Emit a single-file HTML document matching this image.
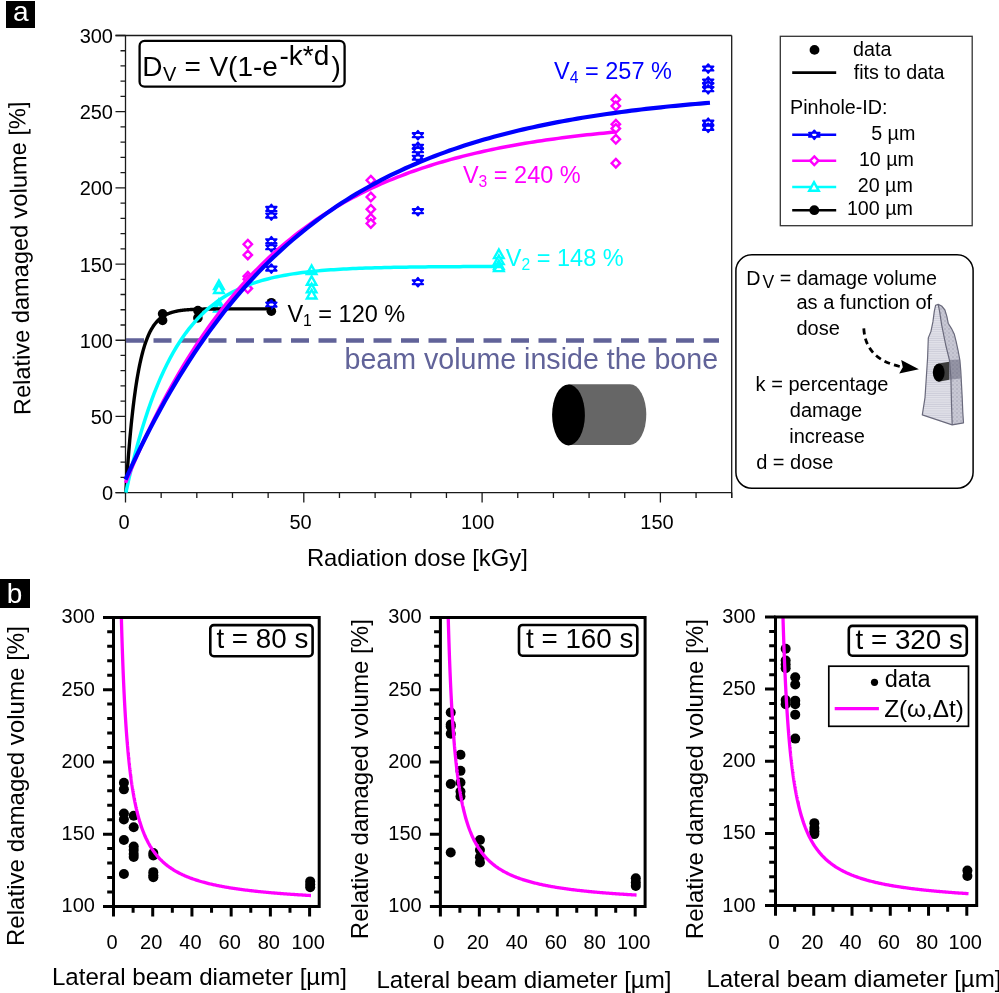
<!DOCTYPE html><html><head><meta charset="utf-8"><title>Figure</title><style>
html,body{margin:0;padding:0;background:#fff;}svg{display:block;will-change:transform;}
text{font-family:"Liberation Sans", sans-serif;}
</style></head><body>
<svg width="999" height="993" viewBox="0 0 999 993">
<rect width="999" height="993" fill="#fff"/>
<defs>
<path id="star" d="M0,-4.4 L5.3,2.1 L-5.3,2.1 Z M0,4.4 L-5.3,-2.1 L5.3,-2.1 Z" fill="#fff" stroke="#0000ff" stroke-width="1.9" stroke-linejoin="round"/>
<path id="dia" d="M0,-4.3 L4.2,0 L0,4.3 L-4.2,0 Z" fill="#fff" stroke="#ff00ff" stroke-width="2.4"/>
<path id="tri" d="M0,-4.6 L4.8,4 L-4.8,4 Z" fill="#fff" stroke="#00ffff" stroke-width="2.4"/>
<circle id="dot" r="4.8" fill="#000"/>
<circle id="bdot" r="5" fill="#000"/>
</defs>
<rect x="6" y="1" width="29" height="27" fill="#000"/>
<text x="12.9" y="20.9" font-size="28" fill="#fff">a</text>
<g stroke="#1a1a1a" stroke-width="1.3" fill="none">
<path d="M115.5,35.5 H731.7 M125.5,35.5 V492.6 M115.5,492.6 H731.7 M731.7,35.5 V498"/>
<path d="M115.5,492.6 H125.5 M120.5,477.36 H125.5 M120.5,462.13 H125.5 M120.5,446.89 H125.5 M120.5,431.65 H125.5 M115.5,416.42 H125.5 M120.5,401.18 H125.5 M120.5,385.94 H125.5 M120.5,370.7 H125.5 M120.5,355.47 H125.5 M115.5,340.23 H125.5 M120.5,324.99 H125.5 M120.5,309.76 H125.5 M120.5,294.52 H125.5 M120.5,279.28 H125.5 M115.5,264.05 H125.5 M120.5,248.81 H125.5 M120.5,233.57 H125.5 M120.5,218.33 H125.5 M120.5,203.1 H125.5 M115.5,187.86 H125.5 M120.5,172.62 H125.5 M120.5,157.39 H125.5 M120.5,142.15 H125.5 M120.5,126.91 H125.5 M115.5,111.68 H125.5 M120.5,96.44 H125.5 M120.5,81.2 H125.5 M120.5,65.96 H125.5 M120.5,50.73 H125.5 M115.5,35.49 H125.5 M125.5,492.6 V502.6 M161.16,492.6 V498 M196.82,492.6 V498 M232.48,492.6 V498 M268.14,492.6 V498 M303.8,492.6 V502.6 M339.46,492.6 V498 M375.12,492.6 V498 M410.78,492.6 V498 M446.44,492.6 V498 M482.1,492.6 V502.6 M517.76,492.6 V498 M553.42,492.6 V498 M589.08,492.6 V498 M624.74,492.6 V498 M660.4,492.6 V502.6 M696.06,492.6 V498 M731.72,492.6 V498"/>
</g>
<g font-size="20" fill="#000" text-anchor="end">
<text x="113" y="500.2">0</text>
<text x="113" y="424.02">50</text>
<text x="113" y="347.83">100</text>
<text x="113" y="271.65">150</text>
<text x="113" y="195.46">200</text>
<text x="113" y="119.28">250</text>
<text x="113" y="43.09">300</text>
</g>
<g font-size="20" fill="#000" text-anchor="middle">
<text x="124" y="529.3">0</text>
<text x="300.6" y="529.3">50</text>
<text x="477.7" y="529.3">100</text>
<text x="657" y="529.3">150</text>
</g>
<text x="306.9" y="565.5" font-size="23.8" fill="#000">Radiation dose [kGy]</text>
<text transform="translate(30.6,414.9) rotate(-91)" font-size="23.6" fill="#000">Relative damaged volume [%]</text>
<rect x="139.6" y="40.9" width="205" height="45.8" rx="5" ry="5" fill="none" stroke="#000" stroke-width="2.3"/>
<g font-size="28" fill="#000">
<text x="142.2" y="75.9">D</text>
<text x="162.9" y="81.3" font-size="20">V</text>
<text x="184.5" y="75.9">=</text>
<text x="209.4" y="75.9">V(1-e</text>
<text x="279.5" y="65.1">-k*d</text>
<text x="331.5" y="75.9">)</text>
</g>
<path d="M126,340.4 H719" stroke="#616399" stroke-width="4.5" stroke-dasharray="18 9.5" fill="none"/>
<use href="#tri" x="218.93" y="285.07"/>
<use href="#tri" x="218.93" y="289.03"/>
<use href="#tri" x="218.93" y="304.12"/>
<use href="#tri" x="218.93" y="307.62"/>
<use href="#tri" x="311.65" y="270.14"/>
<use href="#tri" x="311.65" y="280.81"/>
<use href="#tri" x="311.65" y="288.42"/>
<use href="#tri" x="311.65" y="294.52"/>
<use href="#tri" x="498.86" y="254.14"/>
<use href="#tri" x="498.86" y="260.08"/>
<use href="#tri" x="498.86" y="265.11"/>
<use href="#tri" x="498.86" y="267.09"/>
<use href="#dot" x="162.59" y="313.87"/>
<use href="#dot" x="162.59" y="320.42"/>
<use href="#dot" x="197.89" y="310.52"/>
<use href="#dot" x="197.89" y="317.98"/>
<use href="#dot" x="271.35" y="302.75"/>
<use href="#dot" x="271.35" y="311.13"/>
<use href="#dia" x="247.81" y="244.24"/>
<use href="#dia" x="247.81" y="254.9"/>
<use href="#dia" x="247.81" y="276.23"/>
<use href="#dia" x="247.81" y="279.28"/>
<use href="#dia" x="247.81" y="288.42"/>
<use href="#dia" x="370.84" y="180.24"/>
<use href="#dia" x="370.84" y="197"/>
<use href="#dia" x="370.84" y="209.19"/>
<use href="#dia" x="370.84" y="218.33"/>
<use href="#dia" x="370.84" y="223.51"/>
<use href="#dia" x="615.83" y="99.49"/>
<use href="#dia" x="615.83" y="106.04"/>
<use href="#dia" x="615.83" y="124.17"/>
<use href="#dia" x="615.83" y="128.44"/>
<use href="#dia" x="615.83" y="139.25"/>
<use href="#dia" x="615.83" y="163.18"/>
<use href="#star" x="271.35" y="208.89"/>
<use href="#star" x="271.35" y="215.59"/>
<use href="#star" x="271.35" y="241.19"/>
<use href="#star" x="271.35" y="247.28"/>
<use href="#star" x="271.35" y="268.62"/>
<use href="#star" x="271.35" y="304.58"/>
<use href="#star" x="417.91" y="135.14"/>
<use href="#star" x="417.91" y="146.72"/>
<use href="#star" x="417.91" y="150.22"/>
<use href="#star" x="417.91" y="157.69"/>
<use href="#star" x="417.91" y="211.17"/>
<use href="#star" x="417.91" y="282.18"/>
<use href="#star" x="708.18" y="68.55"/>
<use href="#star" x="708.18" y="81.51"/>
<use href="#star" x="708.18" y="85.01"/>
<use href="#star" x="708.18" y="89.28"/>
<use href="#star" x="708.18" y="122.65"/>
<use href="#star" x="708.18" y="127.83"/>
<path d="M125.84,492.66 L126.33,485.13 L126.81,477.92 L127.3,470.99 L127.79,464.36 L128.27,457.99 L128.76,451.88 L129.25,446.03 L129.73,440.41 L130.22,435.02 L130.71,429.86 L131.19,424.9 L131.68,420.15 L132.17,415.6 L132.65,411.22 L133.14,407.03 L133.63,403.01 L134.11,399.16 L134.6,395.46 L135.09,391.91 L135.57,388.51 L136.06,385.25 L136.55,382.12 L137.03,379.12 L137.52,376.25 L138.01,373.49 L138.49,370.84 L138.98,368.3 L139.47,365.87 L139.95,363.53 L140.44,361.29 L140.93,359.15 L141.41,357.09 L141.9,355.11 L142.39,353.22 L142.87,351.4 L143.36,349.66 L143.85,347.99 L144.33,346.38 L144.82,344.85 L145.31,343.37 L145.79,341.96 L146.28,340.6 L146.77,339.3 L147.25,338.06 L147.74,336.86 L148.23,335.71 L148.71,334.61 L149.2,333.56 L149.68,332.55 L150.17,331.58 L150.66,330.65 L151.14,329.75 L151.63,328.9 L152.12,328.08 L152.6,327.29 L153.09,326.53 L153.58,325.81 L154.06,325.11 L154.55,324.45 L155.04,323.81 L155.52,323.2 L156.01,322.61 L156.5,322.04 L156.98,321.5 L157.47,320.99 L157.96,320.49 L158.44,320.01 L158.93,319.55 L159.42,319.12 L159.9,318.7 L160.39,318.29 L160.88,317.91 L161.36,317.53 L161.85,317.18 L162.34,316.84 L162.82,316.51 L163.31,316.2 L163.8,315.89 L164.28,315.61 L164.77,315.33 L165.26,315.06 L165.74,314.81 L166.23,314.56 L166.72,314.33 L167.2,314.11 L167.69,313.89 L168.18,313.68 L168.66,313.49 L169.15,313.29 L169.64,313.11 L170.12,312.94 L170.61,312.77 L171.1,312.61 L171.58,312.46 L172.07,312.31 L172.56,312.17 L173.04,312.03 L173.53,311.9 L174.02,311.77 L174.5,311.65 L174.99,311.54 L175.48,311.43 L175.96,311.32 L176.45,311.22 L176.94,311.12 L177.42,311.03 L177.91,310.94 L178.4,310.85 L178.88,310.77 L179.37,310.69 L179.86,310.62 L180.34,310.54 L180.83,310.47 L181.32,310.41 L181.8,310.34 L182.29,310.28 L182.78,310.22 L183.26,310.17 L183.75,310.11 L184.24,310.06 L184.72,310.01 L185.21,309.96 L185.7,309.92 L186.18,309.87 L186.67,309.83 L187.16,309.79 L187.64,309.75 L188.13,309.71 L188.62,309.68 L189.1,309.64 L189.59,309.61 L190.08,309.58 L190.56,309.55 L191.05,309.52 L191.54,309.49 L192.02,309.47 L192.51,309.44 L193,309.42 L193.48,309.39 L193.97,309.37 L194.46,309.35 L194.94,309.33 L195.43,309.31 L195.92,309.29 L196.4,309.27 L196.89,309.25 L197.38,309.24 L197.86,309.22 L198.35,309.2 L198.84,309.19 L199.32,309.18 L199.81,309.16 L200.3,309.15 L200.78,309.14 L201.27,309.12 L201.76,309.11 L202.24,309.1 L202.73,309.09 L203.22,309.08 L203.7,309.07 L204.19,309.06 L204.68,309.05 L205.16,309.04 L205.65,309.04 L206.14,309.03 L206.62,309.02 L207.11,309.01 L207.6,309.01 L208.08,309 L208.57,308.99 L209.06,308.99 L209.54,308.98 L210.03,308.97 L210.52,308.97 L211,308.96 L211.49,308.96 L211.98,308.95 L212.46,308.95 L212.95,308.95 L213.44,308.94 L213.92,308.94 L214.41,308.93 L214.9,308.93 L215.38,308.93 L215.87,308.92 L216.36,308.92 L216.84,308.92 L217.33,308.91 L217.82,308.91 L218.3,308.91 L218.79,308.9 L219.28,308.9 L219.76,308.9 L220.25,308.9 L220.74,308.89 L221.22,308.89 L221.71,308.89 L222.2,308.89 L222.68,308.89 L223.17,308.88 L223.66,308.88 L224.14,308.88 L224.63,308.88 L225.12,308.88 L225.6,308.88 L226.09,308.88 L226.58,308.87 L227.06,308.87 L227.55,308.87 L228.04,308.87 L228.52,308.87 L229.01,308.87 L229.5,308.87 L229.98,308.87 L230.47,308.86 L230.96,308.86 L231.44,308.86 L231.93,308.86 L232.42,308.86 L232.9,308.86 L233.39,308.86 L233.88,308.86 L234.36,308.86 L234.85,308.86 L235.34,308.86 L235.82,308.86 L236.31,308.86 L236.8,308.86 L237.28,308.85 L237.77,308.85 L238.26,308.85 L238.74,308.85 L239.23,308.85 L239.72,308.85 L240.2,308.85 L240.69,308.85 L241.18,308.85 L241.66,308.85 L242.15,308.85 L242.64,308.85 L243.12,308.85 L243.61,308.85 L244.1,308.85 L244.58,308.85 L245.07,308.85 L245.56,308.85 L246.04,308.85 L246.53,308.85 L247.02,308.85 L247.5,308.85 L247.99,308.85 L248.48,308.85 L248.96,308.85 L249.45,308.85 L249.94,308.85 L250.42,308.85 L250.91,308.85 L251.4,308.85 L251.88,308.85 L252.37,308.85 L252.86,308.85 L253.34,308.85 L253.83,308.84 L254.32,308.84 L254.8,308.84 L255.29,308.84 L255.78,308.84 L256.26,308.84 L256.75,308.84 L257.24,308.84 L257.72,308.84 L258.21,308.84 L258.7,308.84 L259.18,308.84 L259.67,308.84 L260.16,308.84 L260.64,308.84 L261.13,308.84 L261.62,308.84 L262.1,308.84 L262.59,308.84 L263.08,308.84 L263.56,308.84 L264.05,308.84 L264.54,308.84 L265.02,308.84 L265.51,308.84 L266,308.84 L266.48,308.84 L266.97,308.84 L267.46,308.84 L267.94,308.84 L268.43,308.84 L268.92,308.84 L269.4,308.84 L269.89,308.84 L270.38,308.84 L270.86,308.84 L271.35,308.84" stroke="#000" stroke-width="3.4" fill="none"/>
<path d="M125.86,492.52 L129.01,478.45 L132.16,465.25 L135.31,452.87 L138.47,441.26 L141.62,430.38 L144.77,420.17 L147.92,410.6 L151.08,401.63 L154.23,393.21 L157.38,385.32 L160.53,377.92 L163.69,370.97 L166.84,364.46 L169.99,358.36 L173.14,352.64 L176.3,347.27 L179.45,342.24 L182.6,337.51 L185.75,333.09 L188.91,328.94 L192.06,325.04 L195.21,321.39 L198.36,317.97 L201.52,314.76 L204.67,311.75 L207.82,308.93 L210.97,306.28 L214.13,303.8 L217.28,301.47 L220.43,299.29 L223.58,297.24 L226.74,295.32 L229.89,293.52 L233.04,291.83 L236.19,290.25 L239.35,288.76 L242.5,287.37 L245.65,286.06 L248.8,284.84 L251.96,283.69 L255.11,282.61 L258.26,281.6 L261.41,280.66 L264.57,279.77 L267.72,278.94 L270.87,278.16 L274.02,277.42 L277.17,276.74 L280.33,276.09 L283.48,275.49 L286.63,274.92 L289.78,274.39 L292.94,273.89 L296.09,273.43 L299.24,272.99 L302.39,272.58 L305.55,272.19 L308.7,271.83 L311.85,271.49 L315,271.18 L318.16,270.88 L321.31,270.6 L324.46,270.34 L327.61,270.09 L330.77,269.86 L333.92,269.65 L337.07,269.44 L340.22,269.25 L343.38,269.08 L346.53,268.91 L349.68,268.75 L352.83,268.6 L355.99,268.47 L359.14,268.34 L362.29,268.22 L365.44,268.1 L368.6,268 L371.75,267.9 L374.9,267.8 L378.05,267.71 L381.21,267.63 L384.36,267.56 L387.51,267.48 L390.66,267.41 L393.82,267.35 L396.97,267.29 L400.12,267.24 L403.27,267.18 L406.43,267.13 L409.58,267.09 L412.73,267.04 L415.88,267 L419.04,266.97 L422.19,266.93 L425.34,266.9 L428.49,266.86 L431.65,266.84 L434.8,266.81 L437.95,266.78 L441.1,266.76 L444.26,266.73 L447.41,266.71 L450.56,266.69 L453.71,266.67 L456.87,266.66 L460.02,266.64 L463.17,266.62 L466.32,266.61 L469.48,266.6 L472.63,266.58 L475.78,266.57 L478.93,266.56 L482.09,266.55 L485.24,266.54 L488.39,266.53 L491.54,266.52 L494.69,266.51 L497.85,266.51 L501,266.5" stroke="#00ffff" stroke-width="3.5" fill="none"/>
<path d="M125.5,482.95 L129.62,473.01 L133.74,463.34 L137.86,453.93 L141.98,444.78 L146.1,435.87 L150.22,427.21 L154.34,418.79 L158.46,410.6 L162.58,402.63 L166.7,394.87 L170.82,387.33 L174.94,380 L179.06,372.86 L183.19,365.92 L187.31,359.17 L191.43,352.6 L195.55,346.21 L199.67,340 L203.79,333.95 L207.91,328.07 L212.03,322.35 L216.15,316.79 L220.27,311.38 L224.39,306.11 L228.51,300.99 L232.63,296.01 L236.75,291.17 L240.87,286.46 L244.99,281.87 L249.11,277.41 L253.23,273.07 L257.35,268.86 L261.47,264.75 L265.59,260.76 L269.71,256.88 L273.83,253.1 L277.95,249.42 L282.07,245.85 L286.19,242.37 L290.32,238.99 L294.44,235.7 L298.56,232.5 L302.68,229.39 L306.8,226.36 L310.92,223.42 L315.04,220.55 L319.16,217.77 L323.28,215.06 L327.4,212.42 L331.52,209.85 L335.64,207.36 L339.76,204.93 L343.88,202.57 L348,200.28 L352.12,198.04 L356.24,195.87 L360.36,193.76 L364.48,191.7 L368.6,189.7 L372.72,187.76 L376.84,185.86 L380.96,184.02 L385.08,182.23 L389.2,180.49 L393.32,178.8 L397.44,177.15 L401.57,175.55 L405.69,173.99 L409.81,172.47 L413.93,171 L418.05,169.56 L422.17,168.17 L426.29,166.81 L430.41,165.49 L434.53,164.2 L438.65,162.95 L442.77,161.74 L446.89,160.56 L451.01,159.41 L455.13,158.29 L459.25,157.2 L463.37,156.14 L467.49,155.11 L471.61,154.11 L475.73,153.14 L479.85,152.19 L483.97,151.27 L488.09,150.37 L492.21,149.5 L496.33,148.65 L500.45,147.82 L504.57,147.02 L508.7,146.24 L512.82,145.48 L516.94,144.74 L521.06,144.02 L525.18,143.32 L529.3,142.64 L533.42,141.98 L537.54,141.34 L541.66,140.71 L545.78,140.1 L549.9,139.51 L554.02,138.94 L558.14,138.38 L562.26,137.83 L566.38,137.3 L570.5,136.79 L574.62,136.28 L578.74,135.8 L582.86,135.32 L586.98,134.86 L591.1,134.41 L595.22,133.97 L599.34,133.55 L603.46,133.14 L607.58,132.73 L611.7,132.34 L615.83,131.96" stroke="#ff00ff" stroke-width="3.5" fill="none"/>
<path d="M125.5,479.51 L130.41,468.75 L135.32,458.29 L140.23,448.12 L145.15,438.22 L150.06,428.6 L154.97,419.25 L159.88,410.15 L164.79,401.3 L169.7,392.69 L174.61,384.32 L179.53,376.19 L184.44,368.27 L189.35,360.58 L194.26,353.09 L199.17,345.81 L204.08,338.73 L209,331.85 L213.91,325.16 L218.82,318.65 L223.73,312.32 L228.64,306.16 L233.55,300.17 L238.46,294.35 L243.38,288.69 L248.29,283.18 L253.2,277.83 L258.11,272.62 L263.02,267.56 L267.93,262.63 L272.84,257.85 L277.76,253.19 L282.67,248.66 L287.58,244.26 L292.49,239.97 L297.4,235.81 L302.31,231.76 L307.23,227.82 L312.14,223.99 L317.05,220.26 L321.96,216.64 L326.87,213.12 L331.78,209.69 L336.69,206.36 L341.61,203.12 L346.52,199.97 L351.43,196.9 L356.34,193.92 L361.25,191.03 L366.16,188.21 L371.07,185.47 L375.99,182.8 L380.9,180.21 L385.81,177.69 L390.72,175.24 L395.63,172.86 L400.54,170.54 L405.45,168.28 L410.37,166.09 L415.28,163.96 L420.19,161.89 L425.1,159.87 L430.01,157.91 L434.92,156 L439.84,154.15 L444.75,152.35 L449.66,150.59 L454.57,148.89 L459.48,147.23 L464.39,145.62 L469.3,144.05 L474.22,142.52 L479.13,141.04 L484.04,139.6 L488.95,138.2 L493.86,136.83 L498.77,135.51 L503.68,134.22 L508.6,132.96 L513.51,131.74 L518.42,130.55 L523.33,129.4 L528.24,128.28 L533.15,127.19 L538.07,126.13 L542.98,125.09 L547.89,124.09 L552.8,123.12 L557.71,122.17 L562.62,121.24 L567.53,120.35 L572.45,119.47 L577.36,118.63 L582.27,117.8 L587.18,117 L592.09,116.22 L597,115.46 L601.91,114.72 L606.83,114 L611.74,113.3 L616.65,112.62 L621.56,111.96 L626.47,111.32 L631.38,110.7 L636.3,110.09 L641.21,109.5 L646.12,108.93 L651.03,108.37 L655.94,107.82 L660.85,107.3 L665.76,106.78 L670.68,106.28 L675.59,105.8 L680.5,105.33 L685.41,104.87 L690.32,104.42 L695.23,103.98 L700.14,103.56 L705.06,103.15 L709.97,102.75" stroke="#0000ff" stroke-width="4.2" fill="none"/>
<text x="554.1" y="79.2" font-size="23.5" fill="#0000ff">V<tspan font-size="15.7" dy="4">4</tspan><tspan dy="-4"> = 257 %</tspan></text>
<text x="462.9" y="183.2" font-size="23.5" fill="#ff00ff">V<tspan font-size="15.7" dy="4">3</tspan><tspan dy="-4"> = 240 %</tspan></text>
<text x="505.8" y="265.9" font-size="23.5" fill="#00ffff">V<tspan font-size="15.7" dy="4">2</tspan><tspan dy="-4"> = 148 %</tspan></text>
<text x="287.4" y="322.3" font-size="23.5" fill="#000">V<tspan font-size="15.7" dy="4">1</tspan><tspan dy="-4"> = 120 %</tspan></text>
<text x="344.5" y="369" font-size="28.6" fill="#616399">beam volume inside the bone</text>
<path d="M568.5,384.3 H630 A16.3,30.3 0 0 1 630,444.9 H568.5 Z" fill="#666"/>
<ellipse cx="568.5" cy="414.9" rx="16.4" ry="30.5" fill="#000"/>
<rect x="780.3" y="36.3" width="191.9" height="189.4" fill="#fff" stroke="#333" stroke-width="1.3"/>
<g font-size="19.7" fill="#000">
<circle cx="814.5" cy="49.9" r="4.9" fill="#000"/>
<text x="853.1" y="55.7">data</text>
<path d="M792.2,72.6 H836.2" stroke="#000" stroke-width="2.6"/>
<text x="853.7" y="78.6">fits to data</text>
<text x="790.1" y="114.3">Pinhole-ID:</text>
<path d="M792.2,134.8 H836.2" stroke="#0000ff" stroke-width="2.6"/>
<use href="#star" x="814.3" y="134.8"/>
<text x="871.2" y="139.6">5 µm</text>
<path d="M792.2,160.7 H836.2" stroke="#ff00ff" stroke-width="2.6"/>
<use href="#dia" x="814.3" y="160.7"/>
<text x="858.9" y="166">10 µm</text>
<path d="M792.2,187 H836.2" stroke="#00ffff" stroke-width="2.6"/>
<use href="#tri" x="814" y="186.8"/>
<text x="857.7" y="192.2">20 µm</text>
<path d="M792.2,210.2 H836.2" stroke="#000" stroke-width="2.6"/>
<circle cx="814.3" cy="210.2" r="4.9" fill="#000"/>
<text x="846.9" y="215">100 µm</text>
</g>
<rect x="735.9" y="254.8" width="237.2" height="233.5" rx="16" ry="16" fill="#fff" stroke="#000" stroke-width="1.5"/>
<g font-size="20" fill="#000">
<text x="746.2" y="284.8" font-size="19.7">D</text>
<text x="762.6" y="288.4" font-size="17.5">V</text>
<text x="779.8" y="284.8" font-size="19.7">= damage volume</text>
<text x="796.5" y="309.2">as a function of</text>
<text x="796.5" y="334.8">dose</text>
<text x="755.6" y="390.5">k = percentage</text>
<text x="789.8" y="417">damage</text>
<text x="789.2" y="443.3">increase</text>
<text x="756.2" y="469.4">d = dose</text>
</g>
<defs><pattern id="pf" width="3" height="2.2" patternUnits="userSpaceOnUse"><rect width="3" height="2.2" fill="#e2e2ea"/><rect y="1.3" width="3" height="0.8" fill="#c9c9d6"/></pattern><pattern id="ps" width="4" height="4" patternUnits="userSpaceOnUse"><rect width="4" height="4" fill="#c8c8d4"/><circle cx="1" cy="1" r="0.7" fill="#9c9cae"/><circle cx="3" cy="3" r="0.6" fill="#a8a8b8"/></pattern></defs>
<path d="M935.6,305.3 L938.2,304.4 L941.6,306 L944.9,310 L946.9,316.6 L948.2,323.2 L951.5,328.6 L954.2,333.9 L956.2,341.8 L958.2,351.1 L959.9,360.4 L960.8,371.1 L961.5,384.4 L962.2,397.6 L962.8,412.3 L963.5,422.9 L952.2,424.9 L922.3,414.9 L925,397.6 L926.3,377.7 L927.6,357.8 L928.3,337.9 L931,331.2 L932.9,321.9 L934.3,311.3 Z" fill="url(#pf)"/>
<path d="M938.2,304.4 L941.6,306 L944.9,310 L946.9,316.6 L948.2,323.2 L951.5,328.6 L954.2,333.9 L956.2,341.8 L958.2,351.1 L959.9,360.4 L960.8,371.1 L961.5,384.4 L962.2,397.6 L962.8,412.3 L963.5,422.9 L952.2,424.9 L951.5,404.3 L950.9,377.7 L949.5,360.4 L945.6,344.5 L941.6,324.6 L939.6,311.3 Z" fill="url(#ps)"/>
<path d="M949,360 L959.6,359.4 L960.6,378.6 L949,379.8 Z" fill="#55556a" fill-opacity="0.45"/>
<path d="M938.7,363.4 L949.2,361.8 L949.2,379.8 L938.7,381.8 Z" fill="#3c3c3c"/>
<ellipse cx="938.7" cy="372.6" rx="5.9" ry="9.1" fill="#000"/>
<path d="M935.6,305.3 L938.2,304.4 L941.6,306 L944.9,310 L946.9,316.6 L948.2,323.2 L951.5,328.6 L954.2,333.9 L956.2,341.8 L958.2,351.1 L959.9,360.4 L960.8,371.1 L961.5,384.4 L962.2,397.6 L962.8,412.3 L963.5,422.9 L952.2,424.9 L922.3,414.9 L925,397.6 L926.3,377.7 L927.6,357.8 L928.3,337.9 L931,331.2 L932.9,321.9 L934.3,311.3 Z M938.2,304.4 L939.6,311.3 L941.6,324.6 L945.6,344.5 L949.5,360.4 L950.9,377.7 L951.5,404.3 L952.2,424.9" fill="none" stroke="#6a6a7c" stroke-width="1.2" stroke-linejoin="round"/>
<path d="M863.8,328.4 C865,350 878,362 902,367" stroke="#000" stroke-width="2.8" stroke-dasharray="6 4.2" fill="none"/>
<path d="M918.9,369.2 L901.2,360 L902.8,367.2 L899.2,373.5 Z" fill="#000"/>
<rect x="0" y="579" width="30" height="29" fill="#000"/>
<text x="6.8" y="602.8" font-size="28" fill="#fff">b</text>
<use href="#bdot" x="123.91" y="782.71"/>
<use href="#bdot" x="123.91" y="789.36"/>
<use href="#bdot" x="123.91" y="813.49"/>
<use href="#bdot" x="123.91" y="819.56"/>
<use href="#bdot" x="123.91" y="840.07"/>
<use href="#bdot" x="123.91" y="874.03"/>
<use href="#bdot" x="133.71" y="815.8"/>
<use href="#bdot" x="133.71" y="827.21"/>
<use href="#bdot" x="133.71" y="846.43"/>
<use href="#bdot" x="133.71" y="850.04"/>
<use href="#bdot" x="133.71" y="854.09"/>
<use href="#bdot" x="133.71" y="856.98"/>
<use href="#bdot" x="153.32" y="852.93"/>
<use href="#bdot" x="153.32" y="855.39"/>
<use href="#bdot" x="153.32" y="872.15"/>
<use href="#bdot" x="153.32" y="875.19"/>
<use href="#bdot" x="153.32" y="877.21"/>
<use href="#bdot" x="310.2" y="881.4"/>
<use href="#bdot" x="310.2" y="884.44"/>
<use href="#bdot" x="310.2" y="887.33"/>
<path d="M121.35,617.14 L121.39,618.53 L121.43,619.91 L121.46,621.27 L121.5,622.62 L121.54,623.96 L121.58,625.29 L121.61,626.6 L121.65,627.9 L121.69,629.19 L121.73,630.47 L121.76,631.73 L121.8,632.99 L121.84,634.23 L121.87,635.46 L121.91,636.68 L121.95,637.89 L121.99,639.09 L122.02,640.28 L122.06,641.46 L122.1,642.63 L122.14,643.78 L122.17,644.93 L122.21,646.07 L122.25,647.2 L122.29,648.32 L122.32,649.43 L122.36,650.53 L122.4,651.62 L122.43,652.7 L122.47,653.77 L122.51,654.83 L122.55,655.89 L122.58,656.93 L122.62,657.97 L122.66,659 L122.7,660.02 L122.73,661.03 L122.77,662.03 L122.81,663.03 L122.85,664.02 L122.88,665 L122.92,665.97 L122.96,666.93 L122.99,667.89 L123.03,668.84 L123.07,669.78 L123.11,670.71 L123.14,671.64 L123.18,672.56 L123.22,673.47 L123.26,674.38 L123.29,675.28 L123.33,676.17 L123.37,677.05 L123.41,677.93 L123.44,678.8 L123.48,679.67 L123.52,680.53 L123.55,681.38 L123.59,682.22 L123.63,683.06 L123.67,683.9 L123.7,684.72 L123.74,685.55 L123.78,686.36 L123.82,687.17 L123.85,687.97 L123.89,688.77 L123.93,689.56 L123.97,690.35 L124,691.13 L124.04,691.9 L124.08,692.67 L124.11,693.44 L124.15,694.2 L124.19,694.95 L124.23,695.7 L124.26,696.44 L124.3,697.18 L124.34,697.91 L124.38,698.64 L124.41,699.36 L124.45,700.08 L124.49,700.79 L124.53,701.5 L124.56,702.2 L124.6,702.9 L124.64,703.59 L124.67,704.28 L124.71,704.96 L124.75,705.64 L124.79,706.32 L124.82,706.99 L124.86,707.65 L124.9,708.32 L124.94,708.97 L124.97,709.63 L125.01,710.28 L125.05,710.92 L125.09,711.56 L125.12,712.2 L125.16,712.83 L125.2,713.46 L125.23,714.08 L125.27,714.7 L125.31,715.32 L125.35,715.93 L125.38,716.54 L125.42,717.14 L125.46,717.74 L125.5,718.34 L125.53,718.93 L125.57,719.52 L125.61,720.11 L125.65,720.69 L125.68,721.27 L125.72,721.84 L125.76,722.41 L125.79,722.98 L125.83,723.55 L125.87,724.11 L125.91,724.67 L125.94,725.22 L125.98,725.77 L126.02,726.32 L126.06,726.86 L126.09,727.4 L126.13,727.94 L126.17,728.48 L126.21,729.01 L126.24,729.54 L126.28,730.06 L126.32,730.58 L126.35,731.1 L126.39,731.62 L126.43,732.13 L126.47,732.64 L126.5,733.15 L126.54,733.65 L126.58,734.16 L126.62,734.65 L126.65,735.15 L126.69,735.64 L126.73,736.13 L126.77,736.62 L126.8,737.11 L126.84,737.59 L126.88,738.07 L126.91,738.54 L126.95,739.02 L126.99,739.49 L127.03,739.96 L127.06,740.42 L127.1,740.88 L127.14,741.35 L127.18,741.8 L127.21,742.26 L127.25,742.71 L127.29,743.16 L127.33,743.61 L127.36,744.06 L127.4,744.5 L127.44,744.94 L127.47,745.38 L127.51,745.82 L127.55,746.25 L127.59,746.68 L127.62,747.11 L127.66,747.54 L127.7,747.96 L127.74,748.39 L127.77,748.81 L127.81,749.23 L127.85,749.64 L127.89,750.06 L127.92,750.47 L127.96,750.88 L128,751.28 L128.03,751.69 L128.07,752.09 L128.11,752.49 L128.15,752.89 L128.18,753.29 L128.22,753.68 L128.26,754.08 L128.3,754.47 L128.33,754.86 L128.37,755.24 L128.41,755.63 L128.45,756.01 L128.48,756.39 L128.52,756.77 L128.56,757.15 L128.59,757.53 L128.63,757.9 L128.67,758.27 L128.71,758.64 L128.74,759.01 L128.78,759.37 L128.82,759.74 L128.86,760.1 L128.89,760.46 L128.93,760.82 L128.97,761.18 L129.01,761.54 L129.04,761.89 L129.08,762.24 L129.12,762.59 L129.15,762.94 L129.19,763.29 L129.23,763.63 L129.27,763.98 L129.3,764.32 L129.34,764.66 L129.38,765 L129.42,765.34 L129.45,765.67 L129.49,766.01 L129.53,766.34 L129.57,766.67 L129.6,767 L129.64,767.33 L129.68,767.65 L129.71,767.98 L129.75,768.3 L129.79,768.63 L129.83,768.95 L129.86,769.26 L129.9,769.58 L129.94,769.9 L129.98,770.21 L130.01,770.53 L130.05,770.84 L130.09,771.15 L130.13,771.46 L130.16,771.77 L130.2,772.07 L130.24,772.38 L130.27,772.68 L130.31,772.98 L130.35,773.28 L130.39,773.58 L130.42,773.88 L130.46,774.18 L130.5,774.47 L130.54,774.77 L130.57,775.06 L130.61,775.35 L130.65,775.64 L130.69,775.93 L130.72,776.22 L130.76,776.5 L130.8,776.79 L130.83,777.07 L130.87,777.36 L130.91,777.64 L130.95,777.92 L130.98,778.2 L131.02,778.48 L131.06,778.75 L131.1,779.03 L131.13,779.3 L131.17,779.58 L131.21,779.85 L131.25,780.12 L131.28,780.39 L131.32,780.66 L131.36,780.92 L131.39,781.19 L131.43,781.46 L131.47,781.72 L131.51,781.98 L131.54,782.25 L131.58,782.51 L131.62,782.77 L131.66,783.02 L131.69,783.28 L131.73,783.54 L131.77,783.79 L131.81,784.05 L131.84,784.3 L131.88,784.55 L131.92,784.81 L131.95,785.06 L131.99,785.31 L132.03,785.55 L132.07,785.8 L132.1,786.05 L132.14,786.29 L132.18,786.54 L132.22,786.78 L132.25,787.02 L132.29,787.26 L132.33,787.5 L132.37,787.74 L132.4,787.98 L132.44,788.22 L132.48,788.46 L132.51,788.69 L132.55,788.93 L132.59,789.16 L132.63,789.39 L132.66,789.63 L132.7,789.86 L132.74,790.09 L132.78,790.32 L132.81,790.54 L132.85,790.77 L132.89,791 L132.93,791.22 L132.96,791.45 L133,791.67 L133.04,791.9 L133.07,792.12 L133.11,792.34 L133.15,792.56 L133.19,792.78 L133.22,793 L133.26,793.22 L133.3,793.43 L133.34,793.65 L133.37,793.87 L133.41,794.08 L133.45,794.29 L133.49,794.51 L133.52,794.72 L133.56,794.93 L133.6,795.14 L133.63,795.35 L133.67,795.56 L133.71,795.77 L133.75,795.98 L133.78,796.18 L133.82,796.39 L133.86,796.6 L133.9,796.8 L133.93,797 L133.97,797.21 L134.01,797.41 L134.05,797.61 L134.08,797.81 L134.12,798.01 L134.16,798.21 L134.19,798.41 L134.23,798.61 L134.27,798.81 L134.31,799 L134.34,799.2 L134.38,799.39 L134.42,799.59 L134.46,799.78 L134.49,799.97 L134.53,800.17 L134.57,800.36 L134.61,800.55 L134.64,800.74 L134.68,800.93 L134.72,801.12 L134.75,801.31 L134.79,801.49 L134.83,801.68 L134.87,801.87 L134.9,802.05 L134.94,802.24 L134.98,802.42 L135.02,802.6 L135.05,802.79 L135.09,802.97 L135.13,803.15 L135.17,803.33 L135.2,803.51 L135.24,803.69 L135.28,803.87 L135.31,804.05 L135.35,804.23 L135.39,804.41 L135.43,804.58 L135.46,804.76 L135.5,804.93 L135.54,805.11 L135.58,805.28 L135.61,805.46 L135.65,805.63 L135.69,805.8 L135.73,805.98 L135.76,806.15 L135.8,806.32 L135.84,806.49 L135.87,806.66 L135.91,806.83 L135.95,807 L135.99,807.16 L136.02,807.33 L136.06,807.5 L136.1,807.66 L136.14,807.83 L136.17,807.99 L136.21,808.16 L136.25,808.32 L136.29,808.49 L136.32,808.65 L136.36,808.81 L136.4,808.97 L136.43,809.14 L136.47,809.3 L136.51,809.46 L136.55,809.62 L136.58,809.78 L136.62,809.94 L136.66,810.09 L136.7,810.25 L136.73,810.41 L136.77,810.57 L136.81,810.72 L136.85,810.88 L136.88,811.03 L136.92,811.19 L136.96,811.34 L136.99,811.5 L137.03,811.65 L137.03,811.65 L137.91,815.1 L138.78,818.31 L139.65,821.31 L140.53,824.11 L141.4,826.73 L142.28,829.2 L143.15,831.51 L144.02,833.7 L144.9,835.76 L145.77,837.71 L146.65,839.55 L147.52,841.3 L148.39,842.96 L149.27,844.54 L150.14,846.04 L151.02,847.47 L151.89,848.84 L152.77,850.14 L153.64,851.39 L154.51,852.58 L155.39,853.73 L156.26,854.82 L157.14,855.87 L158.01,856.88 L158.88,857.85 L159.76,858.79 L160.63,859.69 L161.51,860.55 L162.38,861.39 L163.25,862.19 L164.13,862.97 L165,863.72 L165.88,864.45 L166.75,865.15 L167.62,865.83 L168.5,866.48 L169.37,867.12 L170.25,867.73 L171.12,868.33 L171.99,868.91 L172.87,869.47 L173.74,870.02 L174.62,870.55 L175.49,871.06 L176.37,871.56 L177.24,872.05 L178.11,872.52 L178.99,872.98 L179.86,873.43 L180.74,873.87 L181.61,874.29 L182.48,874.71 L183.36,875.11 L184.23,875.5 L185.11,875.89 L185.98,876.26 L186.85,876.63 L187.73,876.98 L188.6,877.33 L189.48,877.67 L190.35,878.01 L191.22,878.33 L192.1,878.65 L192.97,878.96 L193.85,879.26 L194.72,879.56 L195.59,879.85 L196.47,880.14 L197.34,880.41 L198.22,880.69 L199.09,880.96 L199.97,881.22 L200.84,881.47 L201.71,881.72 L202.59,881.97 L203.46,882.21 L204.34,882.45 L205.21,882.68 L206.08,882.91 L206.96,883.13 L207.83,883.35 L208.71,883.57 L209.58,883.78 L210.45,883.99 L211.33,884.19 L212.2,884.39 L213.08,884.59 L213.95,884.78 L214.82,884.97 L215.7,885.16 L216.57,885.34 L217.45,885.52 L218.32,885.7 L219.19,885.87 L220.07,886.04 L220.94,886.21 L221.82,886.38 L222.69,886.54 L223.57,886.7 L224.44,886.86 L225.31,887.01 L226.19,887.17 L227.06,887.32 L227.94,887.47 L228.81,887.61 L229.68,887.76 L230.56,887.9 L231.43,888.04 L232.31,888.18 L233.18,888.31 L234.05,888.44 L234.93,888.58 L235.8,888.71 L236.68,888.83 L237.55,888.96 L238.42,889.08 L239.3,889.21 L240.17,889.33 L241.05,889.45 L241.92,889.56 L242.79,889.68 L243.67,889.79 L244.54,889.91 L245.42,890.02 L246.29,890.13 L247.17,890.23 L248.04,890.34 L248.91,890.45 L249.79,890.55 L250.66,890.65 L251.54,890.75 L252.41,890.85 L253.28,890.95 L254.16,891.05 L255.03,891.15 L255.91,891.24 L256.78,891.34 L257.65,891.43 L258.53,891.52 L259.4,891.61 L260.28,891.7 L261.15,891.79 L262.02,891.88 L262.9,891.96 L263.77,892.05 L264.65,892.13 L265.52,892.22 L266.39,892.3 L267.27,892.38 L268.14,892.46 L269.02,892.54 L269.89,892.62 L270.77,892.7 L271.64,892.78 L272.51,892.85 L273.39,892.93 L274.26,893 L275.14,893.07 L276.01,893.15 L276.88,893.22 L277.76,893.29 L278.63,893.36 L279.51,893.43 L280.38,893.5 L281.25,893.57 L282.13,893.64 L283,893.7 L283.88,893.77 L284.75,893.84 L285.62,893.9 L286.5,893.96 L287.37,894.03 L288.25,894.09 L289.12,894.15 L289.99,894.21 L290.87,894.28 L291.74,894.34 L292.62,894.4 L293.49,894.46 L294.37,894.51 L295.24,894.57 L296.11,894.63 L296.99,894.69 L297.86,894.74 L298.74,894.8 L299.61,894.85 L300.48,894.91 L301.36,894.96 L302.23,895.02 L303.11,895.07 L303.98,895.12 L304.85,895.18 L305.73,895.23 L306.6,895.28 L307.48,895.33 L308.35,895.38 L309.22,895.43 L310.1,895.48 L310.97,895.53" stroke="#ff00ff" stroke-width="3.3" fill="none"/>
<g stroke="#000" stroke-width="3" fill="none" stroke-linecap="butt">
<path d="M113.5,617.4 H319.2 V906.4 H113.5 Z"/>
<path d="M103,906.4 H113.5 M107.2,891.95 H113.5 M107.2,877.5 H113.5 M107.2,863.05 H113.5 M107.2,848.6 H113.5 M103,834.15 H113.5 M107.2,819.7 H113.5 M107.2,805.25 H113.5 M107.2,790.8 H113.5 M107.2,776.35 H113.5 M103,761.9 H113.5 M107.2,747.45 H113.5 M107.2,733 H113.5 M107.2,718.55 H113.5 M107.2,704.1 H113.5 M103,689.65 H113.5 M107.2,675.2 H113.5 M107.2,660.75 H113.5 M107.2,646.3 H113.5 M107.2,631.85 H113.5 M103,617.4 H113.5 M113.5,906.4 V916.6 M133.11,906.4 V912.7 M152.72,906.4 V916.6 M172.33,906.4 V912.7 M191.94,906.4 V916.6 M211.55,906.4 V912.7 M231.16,906.4 V916.6 M250.77,906.4 V912.7 M270.38,906.4 V916.6 M289.99,906.4 V912.7 M309.6,906.4 V916.6"/>
</g>
<g font-size="20" fill="#000" text-anchor="end">
<text x="94.9" y="912.4">100</text>
<text x="94.9" y="840.15">150</text>
<text x="94.9" y="767.9">200</text>
<text x="94.9" y="695.65">250</text>
<text x="94.9" y="623.4">300</text>
</g>
<g font-size="20" fill="#000" text-anchor="middle">
<text x="112" y="948.8">0</text>
<text x="151.22" y="948.8">20</text>
<text x="190.44" y="948.8">40</text>
<text x="229.66" y="948.8">60</text>
<text x="268.88" y="948.8">80</text>
<text x="308.1" y="948.8">100</text>
</g>
<use href="#bdot" x="450.74" y="712.48"/>
<use href="#bdot" x="450.74" y="724.62"/>
<use href="#bdot" x="450.74" y="726.5"/>
<use href="#bdot" x="450.74" y="733.72"/>
<use href="#bdot" x="450.74" y="784.01"/>
<use href="#bdot" x="450.74" y="852.5"/>
<use href="#bdot" x="460.48" y="754.67"/>
<use href="#bdot" x="460.48" y="770.86"/>
<use href="#bdot" x="460.48" y="782.42"/>
<use href="#bdot" x="460.48" y="791.52"/>
<use href="#bdot" x="460.48" y="796.58"/>
<use href="#bdot" x="479.96" y="839.93"/>
<use href="#bdot" x="479.96" y="850.04"/>
<use href="#bdot" x="479.96" y="857.13"/>
<use href="#bdot" x="479.96" y="862.47"/>
<use href="#bdot" x="635.8" y="878.37"/>
<use href="#bdot" x="635.8" y="882.41"/>
<use href="#bdot" x="635.8" y="885.88"/>
<path d="M448.24,617.82 L448.27,619.18 L448.31,620.52 L448.35,621.85 L448.39,623.17 L448.42,624.48 L448.46,625.77 L448.5,627.06 L448.53,628.33 L448.57,629.59 L448.61,630.84 L448.64,632.08 L448.68,633.3 L448.72,634.52 L448.76,635.73 L448.79,636.92 L448.83,638.11 L448.87,639.28 L448.9,640.44 L448.94,641.6 L448.98,642.74 L449.02,643.88 L449.05,645 L449.09,646.12 L449.13,647.23 L449.16,648.32 L449.2,649.41 L449.24,650.49 L449.28,651.56 L449.31,652.62 L449.35,653.68 L449.39,654.72 L449.42,655.76 L449.46,656.78 L449.5,657.8 L449.53,658.81 L449.57,659.81 L449.61,660.81 L449.65,661.8 L449.68,662.78 L449.72,663.75 L449.76,664.71 L449.79,665.67 L449.83,666.62 L449.87,667.56 L449.91,668.49 L449.94,669.42 L449.98,670.34 L450.02,671.25 L450.05,672.16 L450.09,673.05 L450.13,673.95 L450.17,674.83 L450.2,675.71 L450.24,676.58 L450.28,677.45 L450.31,678.31 L450.35,679.16 L450.39,680.01 L450.42,680.85 L450.46,681.68 L450.5,682.51 L450.54,683.33 L450.57,684.15 L450.61,684.96 L450.65,685.77 L450.68,686.56 L450.72,687.36 L450.76,688.14 L450.8,688.93 L450.83,689.7 L450.87,690.47 L450.91,691.24 L450.94,692 L450.98,692.76 L451.02,693.5 L451.06,694.25 L451.09,694.99 L451.13,695.72 L451.17,696.45 L451.2,697.18 L451.24,697.9 L451.28,698.61 L451.32,699.32 L451.35,700.03 L451.39,700.73 L451.43,701.42 L451.46,702.11 L451.5,702.8 L451.54,703.48 L451.57,704.16 L451.61,704.83 L451.65,705.5 L451.69,706.16 L451.72,706.82 L451.76,707.48 L451.8,708.13 L451.83,708.78 L451.87,709.42 L451.91,710.06 L451.95,710.69 L451.98,711.32 L452.02,711.95 L452.06,712.57 L452.09,713.19 L452.13,713.81 L452.17,714.42 L452.21,715.02 L452.24,715.63 L452.28,716.23 L452.32,716.82 L452.35,717.42 L452.39,718 L452.43,718.59 L452.46,719.17 L452.5,719.75 L452.54,720.32 L452.58,720.89 L452.61,721.46 L452.65,722.03 L452.69,722.59 L452.72,723.14 L452.76,723.7 L452.8,724.25 L452.84,724.8 L452.87,725.34 L452.91,725.88 L452.95,726.42 L452.98,726.95 L453.02,727.48 L453.06,728.01 L453.1,728.54 L453.13,729.06 L453.17,729.58 L453.21,730.1 L453.24,730.61 L453.28,731.12 L453.32,731.63 L453.35,732.13 L453.39,732.63 L453.43,733.13 L453.47,733.63 L453.5,734.12 L453.54,734.61 L453.58,735.1 L453.61,735.58 L453.65,736.06 L453.69,736.54 L453.73,737.02 L453.76,737.5 L453.8,737.97 L453.84,738.44 L453.87,738.9 L453.91,739.37 L453.95,739.83 L453.99,740.29 L454.02,740.74 L454.06,741.2 L454.1,741.65 L454.13,742.1 L454.17,742.54 L454.21,742.99 L454.24,743.43 L454.28,743.87 L454.32,744.31 L454.36,744.74 L454.39,745.17 L454.43,745.6 L454.47,746.03 L454.5,746.46 L454.54,746.88 L454.58,747.3 L454.62,747.72 L454.65,748.14 L454.69,748.55 L454.73,748.96 L454.76,749.37 L454.8,749.78 L454.84,750.19 L454.88,750.59 L454.91,751 L454.95,751.4 L454.99,751.79 L455.02,752.19 L455.06,752.58 L455.1,752.98 L455.13,753.37 L455.17,753.75 L455.21,754.14 L455.25,754.52 L455.28,754.91 L455.32,755.29 L455.36,755.67 L455.39,756.04 L455.43,756.42 L455.47,756.79 L455.51,757.16 L455.54,757.53 L455.58,757.9 L455.62,758.26 L455.65,758.63 L455.69,758.99 L455.73,759.35 L455.77,759.71 L455.8,760.07 L455.84,760.42 L455.88,760.77 L455.91,761.13 L455.95,761.48 L455.99,761.82 L456.02,762.17 L456.06,762.52 L456.1,762.86 L456.14,763.2 L456.17,763.54 L456.21,763.88 L456.25,764.22 L456.28,764.55 L456.32,764.89 L456.36,765.22 L456.4,765.55 L456.43,765.88 L456.47,766.21 L456.51,766.53 L456.54,766.86 L456.58,767.18 L456.62,767.5 L456.66,767.83 L456.69,768.14 L456.73,768.46 L456.77,768.78 L456.8,769.09 L456.84,769.41 L456.88,769.72 L456.92,770.03 L456.95,770.34 L456.99,770.64 L457.03,770.95 L457.06,771.26 L457.1,771.56 L457.14,771.86 L457.17,772.16 L457.21,772.46 L457.25,772.76 L457.29,773.06 L457.32,773.35 L457.36,773.65 L457.4,773.94 L457.43,774.23 L457.47,774.52 L457.51,774.81 L457.55,775.1 L457.58,775.39 L457.62,775.67 L457.66,775.96 L457.69,776.24 L457.73,776.52 L457.77,776.8 L457.81,777.08 L457.84,777.36 L457.88,777.64 L457.92,777.91 L457.95,778.19 L457.99,778.46 L458.03,778.73 L458.06,779 L458.1,779.27 L458.14,779.54 L458.18,779.81 L458.21,780.08 L458.25,780.34 L458.29,780.61 L458.32,780.87 L458.36,781.13 L458.4,781.39 L458.44,781.65 L458.47,781.91 L458.51,782.17 L458.55,782.43 L458.58,782.68 L458.62,782.94 L458.66,783.19 L458.7,783.45 L458.73,783.7 L458.77,783.95 L458.81,784.2 L458.84,784.45 L458.88,784.69 L458.92,784.94 L458.95,785.19 L458.99,785.43 L459.03,785.68 L459.07,785.92 L459.1,786.16 L459.14,786.4 L459.18,786.64 L459.21,786.88 L459.25,787.12 L459.29,787.36 L459.33,787.59 L459.36,787.83 L459.4,788.06 L459.44,788.29 L459.47,788.53 L459.51,788.76 L459.55,788.99 L459.59,789.22 L459.62,789.45 L459.66,789.68 L459.7,789.9 L459.73,790.13 L459.77,790.36 L459.81,790.58 L459.84,790.8 L459.88,791.03 L459.92,791.25 L459.96,791.47 L459.99,791.69 L460.03,791.91 L460.07,792.13 L460.1,792.35 L460.14,792.56 L460.18,792.78 L460.22,792.99 L460.25,793.21 L460.29,793.42 L460.33,793.64 L460.36,793.85 L460.4,794.06 L460.44,794.27 L460.48,794.48 L460.51,794.69 L460.55,794.9 L460.59,795.11 L460.62,795.31 L460.66,795.52 L460.7,795.72 L460.73,795.93 L460.77,796.13 L460.81,796.33 L460.85,796.54 L460.88,796.74 L460.92,796.94 L460.96,797.14 L460.99,797.34 L461.03,797.54 L461.07,797.73 L461.11,797.93 L461.14,798.13 L461.18,798.32 L461.22,798.52 L461.25,798.71 L461.29,798.91 L461.33,799.1 L461.37,799.29 L461.4,799.48 L461.44,799.68 L461.48,799.87 L461.51,800.06 L461.55,800.24 L461.59,800.43 L461.63,800.62 L461.66,800.81 L461.7,800.99 L461.74,801.18 L461.77,801.36 L461.81,801.55 L461.85,801.73 L461.88,801.92 L461.92,802.1 L461.96,802.28 L462,802.46 L462.03,802.64 L462.07,802.82 L462.11,803 L462.14,803.18 L462.18,803.36 L462.22,803.53 L462.26,803.71 L462.29,803.89 L462.33,804.06 L462.37,804.24 L462.4,804.41 L462.44,804.59 L462.48,804.76 L462.52,804.93 L462.55,805.11 L462.59,805.28 L462.63,805.45 L462.66,805.62 L462.7,805.79 L462.74,805.96 L462.77,806.13 L462.81,806.29 L462.85,806.46 L462.89,806.63 L462.92,806.8 L462.96,806.96 L463,807.13 L463.03,807.29 L463.07,807.46 L463.11,807.62 L463.15,807.78 L463.18,807.95 L463.22,808.11 L463.26,808.27 L463.29,808.43 L463.33,808.59 L463.37,808.75 L463.41,808.91 L463.44,809.07 L463.48,809.23 L463.52,809.39 L463.55,809.54 L463.59,809.7 L463.63,809.86 L463.66,810.01 L463.7,810.17 L463.74,810.32 L463.78,810.48 L463.78,810.48 L464.64,813.96 L465.51,817.2 L466.38,820.22 L467.25,823.05 L468.12,825.7 L468.99,828.18 L469.85,830.52 L470.72,832.72 L471.59,834.8 L472.46,836.77 L473.33,838.63 L474.2,840.4 L475.06,842.07 L475.93,843.67 L476.8,845.18 L477.67,846.63 L478.54,848.01 L479.41,849.33 L480.27,850.59 L481.14,851.79 L482.01,852.95 L482.88,854.05 L483.75,855.12 L484.61,856.14 L485.48,857.12 L486.35,858.06 L487.22,858.97 L488.09,859.84 L488.96,860.68 L489.82,861.5 L490.69,862.28 L491.56,863.04 L492.43,863.77 L493.3,864.48 L494.17,865.16 L495.03,865.82 L495.9,866.47 L496.77,867.09 L497.64,867.69 L498.51,868.28 L499.38,868.84 L500.24,869.39 L501.11,869.93 L501.98,870.45 L502.85,870.95 L503.72,871.44 L504.59,871.92 L505.45,872.38 L506.32,872.83 L507.19,873.27 L508.06,873.7 L508.93,874.12 L509.79,874.53 L510.66,874.92 L511.53,875.31 L512.4,875.69 L513.27,876.06 L514.14,876.42 L515,876.77 L515.87,877.11 L516.74,877.45 L517.61,877.77 L518.48,878.1 L519.35,878.41 L520.21,878.71 L521.08,879.01 L521.95,879.31 L522.82,879.59 L523.69,879.87 L524.56,880.15 L525.42,880.42 L526.29,880.68 L527.16,880.94 L528.03,881.19 L528.9,881.44 L529.77,881.68 L530.63,881.92 L531.5,882.16 L532.37,882.39 L533.24,882.61 L534.11,882.83 L534.97,883.05 L535.84,883.26 L536.71,883.47 L537.58,883.68 L538.45,883.88 L539.32,884.08 L540.18,884.27 L541.05,884.46 L541.92,884.65 L542.79,884.83 L543.66,885.01 L544.53,885.19 L545.39,885.37 L546.26,885.54 L547.13,885.71 L548,885.88 L548.87,886.04 L549.74,886.2 L550.6,886.36 L551.47,886.52 L552.34,886.67 L553.21,886.82 L554.08,886.97 L554.95,887.12 L555.81,887.26 L556.68,887.4 L557.55,887.54 L558.42,887.68 L559.29,887.82 L560.16,887.95 L561.02,888.08 L561.89,888.21 L562.76,888.34 L563.63,888.47 L564.5,888.59 L565.36,888.72 L566.23,888.84 L567.1,888.96 L567.97,889.08 L568.84,889.19 L569.71,889.31 L570.57,889.42 L571.44,889.53 L572.31,889.64 L573.18,889.75 L574.05,889.86 L574.92,889.96 L575.78,890.07 L576.65,890.17 L577.52,890.27 L578.39,890.37 L579.26,890.47 L580.13,890.57 L580.99,890.67 L581.86,890.76 L582.73,890.86 L583.6,890.95 L584.47,891.04 L585.34,891.13 L586.2,891.22 L587.07,891.31 L587.94,891.4 L588.81,891.49 L589.68,891.57 L590.54,891.66 L591.41,891.74 L592.28,891.82 L593.15,891.9 L594.02,891.99 L594.89,892.07 L595.75,892.14 L596.62,892.22 L597.49,892.3 L598.36,892.38 L599.23,892.45 L600.1,892.53 L600.96,892.6 L601.83,892.67 L602.7,892.75 L603.57,892.82 L604.44,892.89 L605.31,892.96 L606.17,893.03 L607.04,893.1 L607.91,893.16 L608.78,893.23 L609.65,893.3 L610.52,893.36 L611.38,893.43 L612.25,893.49 L613.12,893.56 L613.99,893.62 L614.86,893.68 L615.72,893.74 L616.59,893.8 L617.46,893.86 L618.33,893.92 L619.2,893.98 L620.07,894.04 L620.93,894.1 L621.8,894.16 L622.67,894.21 L623.54,894.27 L624.41,894.33 L625.28,894.38 L626.14,894.44 L627.01,894.49 L627.88,894.55 L628.75,894.6 L629.62,894.65 L630.49,894.7 L631.35,894.76 L632.22,894.81 L633.09,894.86 L633.96,894.91 L634.83,894.96 L635.7,895.01 L636.56,895.06" stroke="#ff00ff" stroke-width="3.3" fill="none"/>
<g stroke="#000" stroke-width="3" fill="none" stroke-linecap="butt">
<path d="M440.4,617.4 H645.1 V906.4 H440.4 Z"/>
<path d="M429.9,906.4 H440.4 M434.1,891.95 H440.4 M434.1,877.5 H440.4 M434.1,863.05 H440.4 M434.1,848.6 H440.4 M429.9,834.15 H440.4 M434.1,819.7 H440.4 M434.1,805.25 H440.4 M434.1,790.8 H440.4 M434.1,776.35 H440.4 M429.9,761.9 H440.4 M434.1,747.45 H440.4 M434.1,733 H440.4 M434.1,718.55 H440.4 M434.1,704.1 H440.4 M429.9,689.65 H440.4 M434.1,675.2 H440.4 M434.1,660.75 H440.4 M434.1,646.3 H440.4 M434.1,631.85 H440.4 M429.9,617.4 H440.4 M440.4,906.4 V916.6 M459.88,906.4 V912.7 M479.36,906.4 V916.6 M498.84,906.4 V912.7 M518.32,906.4 V916.6 M537.8,906.4 V912.7 M557.28,906.4 V916.6 M576.76,906.4 V912.7 M596.24,906.4 V916.6 M615.72,906.4 V912.7 M635.2,906.4 V916.6"/>
</g>
<g font-size="20" fill="#000" text-anchor="end">
<text x="421.7" y="912.4">100</text>
<text x="421.7" y="840.15">150</text>
<text x="421.7" y="767.9">200</text>
<text x="421.7" y="695.65">250</text>
<text x="421.7" y="623.4">300</text>
</g>
<g font-size="20" fill="#000" text-anchor="middle">
<text x="438.9" y="948.8">0</text>
<text x="477.86" y="948.8">20</text>
<text x="516.82" y="948.8">40</text>
<text x="555.78" y="948.8">60</text>
<text x="594.74" y="948.8">80</text>
<text x="633.7" y="948.8">100</text>
</g>
<use href="#bdot" x="785.67" y="648.74"/>
<use href="#bdot" x="785.67" y="660.42"/>
<use href="#bdot" x="785.67" y="664.6"/>
<use href="#bdot" x="785.67" y="668.21"/>
<use href="#bdot" x="785.67" y="699.94"/>
<use href="#bdot" x="785.67" y="704.13"/>
<use href="#bdot" x="795.23" y="677.3"/>
<use href="#bdot" x="795.23" y="684.51"/>
<use href="#bdot" x="795.23" y="700.66"/>
<use href="#bdot" x="795.23" y="704.13"/>
<use href="#bdot" x="795.23" y="714.66"/>
<use href="#bdot" x="795.23" y="738.6"/>
<use href="#bdot" x="814.36" y="823.13"/>
<use href="#bdot" x="814.36" y="828.04"/>
<use href="#bdot" x="814.36" y="831.21"/>
<use href="#bdot" x="814.36" y="834.1"/>
<use href="#bdot" x="967.4" y="870.59"/>
<use href="#bdot" x="967.4" y="876.07"/>
<path d="M782.98,616.84 L783.01,618.08 L783.05,619.32 L783.09,620.54 L783.12,621.75 L783.16,622.95 L783.2,624.15 L783.23,625.33 L783.27,626.5 L783.31,627.67 L783.34,628.82 L783.38,629.96 L783.41,631.1 L783.45,632.22 L783.49,633.34 L783.52,634.45 L783.56,635.55 L783.6,636.64 L783.63,637.72 L783.67,638.79 L783.71,639.85 L783.74,640.91 L783.78,641.96 L783.82,643 L783.85,644.03 L783.89,645.05 L783.92,646.07 L783.96,647.07 L784,648.07 L784.03,649.07 L784.07,650.05 L784.11,651.03 L784.14,652 L784.18,652.96 L784.22,653.92 L784.25,654.87 L784.29,655.81 L784.33,656.74 L784.36,657.67 L784.4,658.59 L784.43,659.5 L784.47,660.41 L784.51,661.31 L784.54,662.21 L784.58,663.09 L784.62,663.98 L784.65,664.85 L784.69,665.72 L784.73,666.58 L784.76,667.44 L784.8,668.29 L784.83,669.13 L784.87,669.97 L784.91,670.8 L784.94,671.63 L784.98,672.45 L785.02,673.27 L785.05,674.08 L785.09,674.88 L785.13,675.68 L785.16,676.47 L785.2,677.26 L785.24,678.04 L785.27,678.82 L785.31,679.59 L785.34,680.36 L785.38,681.12 L785.42,681.88 L785.45,682.63 L785.49,683.38 L785.53,684.12 L785.56,684.86 L785.6,685.59 L785.64,686.32 L785.67,687.04 L785.71,687.76 L785.75,688.47 L785.78,689.18 L785.82,689.88 L785.85,690.58 L785.89,691.28 L785.93,691.97 L785.96,692.65 L786,693.33 L786.04,694.01 L786.07,694.69 L786.11,695.35 L786.15,696.02 L786.18,696.68 L786.22,697.34 L786.26,697.99 L786.29,698.64 L786.33,699.28 L786.36,699.92 L786.4,700.56 L786.44,701.19 L786.47,701.82 L786.51,702.45 L786.55,703.07 L786.58,703.69 L786.62,704.3 L786.66,704.91 L786.69,705.52 L786.73,706.12 L786.77,706.72 L786.8,707.31 L786.84,707.91 L786.87,708.5 L786.91,709.08 L786.95,709.66 L786.98,710.24 L787.02,710.82 L787.06,711.39 L787.09,711.96 L787.13,712.52 L787.17,713.08 L787.2,713.64 L787.24,714.2 L787.28,714.75 L787.31,715.3 L787.35,715.85 L787.38,716.39 L787.42,716.93 L787.46,717.47 L787.49,718 L787.53,718.53 L787.57,719.06 L787.6,719.58 L787.64,720.1 L787.68,720.62 L787.71,721.14 L787.75,721.65 L787.78,722.16 L787.82,722.67 L787.86,723.18 L787.89,723.68 L787.93,724.18 L787.97,724.68 L788,725.17 L788.04,725.66 L788.08,726.15 L788.11,726.64 L788.15,727.12 L788.19,727.6 L788.22,728.08 L788.26,728.56 L788.29,729.03 L788.33,729.5 L788.37,729.97 L788.4,730.44 L788.44,730.9 L788.48,731.36 L788.51,731.82 L788.55,732.28 L788.59,732.73 L788.62,733.18 L788.66,733.63 L788.7,734.08 L788.73,734.52 L788.77,734.97 L788.8,735.41 L788.84,735.84 L788.88,736.28 L788.91,736.71 L788.95,737.14 L788.99,737.57 L789.02,738 L789.06,738.43 L789.1,738.85 L789.13,739.27 L789.17,739.69 L789.21,740.1 L789.24,740.52 L789.28,740.93 L789.31,741.34 L789.35,741.75 L789.39,742.16 L789.42,742.56 L789.46,742.96 L789.5,743.36 L789.53,743.76 L789.57,744.16 L789.61,744.55 L789.64,744.95 L789.68,745.34 L789.72,745.73 L789.75,746.11 L789.79,746.5 L789.82,746.88 L789.86,747.26 L789.9,747.64 L789.93,748.02 L789.97,748.4 L790.01,748.77 L790.04,749.14 L790.08,749.52 L790.12,749.88 L790.15,750.25 L790.19,750.62 L790.23,750.98 L790.26,751.34 L790.3,751.7 L790.33,752.06 L790.37,752.42 L790.41,752.78 L790.44,753.13 L790.48,753.48 L790.52,753.83 L790.55,754.18 L790.59,754.53 L790.63,754.88 L790.66,755.22 L790.7,755.57 L790.73,755.91 L790.77,756.25 L790.81,756.58 L790.84,756.92 L790.88,757.26 L790.92,757.59 L790.95,757.92 L790.99,758.25 L791.03,758.58 L791.06,758.91 L791.1,759.24 L791.14,759.56 L791.17,759.89 L791.21,760.21 L791.24,760.53 L791.28,760.85 L791.32,761.17 L791.35,761.48 L791.39,761.8 L791.43,762.11 L791.46,762.43 L791.5,762.74 L791.54,763.05 L791.57,763.36 L791.61,763.66 L791.65,763.97 L791.68,764.27 L791.72,764.58 L791.75,764.88 L791.79,765.18 L791.83,765.48 L791.86,765.78 L791.9,766.08 L791.94,766.37 L791.97,766.67 L792.01,766.96 L792.05,767.25 L792.08,767.54 L792.12,767.83 L792.16,768.12 L792.19,768.41 L792.23,768.69 L792.26,768.98 L792.3,769.26 L792.34,769.55 L792.37,769.83 L792.41,770.11 L792.45,770.39 L792.48,770.66 L792.52,770.94 L792.56,771.22 L792.59,771.49 L792.63,771.77 L792.67,772.04 L792.7,772.31 L792.74,772.58 L792.77,772.85 L792.81,773.12 L792.85,773.38 L792.88,773.65 L792.92,773.91 L792.96,774.18 L792.99,774.44 L793.03,774.7 L793.07,774.96 L793.1,775.22 L793.14,775.48 L793.18,775.74 L793.21,776 L793.25,776.25 L793.28,776.51 L793.32,776.76 L793.36,777.01 L793.39,777.27 L793.43,777.52 L793.47,777.77 L793.5,778.01 L793.54,778.26 L793.58,778.51 L793.61,778.76 L793.65,779 L793.69,779.24 L793.72,779.49 L793.76,779.73 L793.79,779.97 L793.83,780.21 L793.87,780.45 L793.9,780.69 L793.94,780.93 L793.98,781.16 L794.01,781.4 L794.05,781.64 L794.09,781.87 L794.12,782.1 L794.16,782.34 L794.19,782.57 L794.23,782.8 L794.27,783.03 L794.3,783.26 L794.34,783.49 L794.38,783.71 L794.41,783.94 L794.45,784.16 L794.49,784.39 L794.52,784.61 L794.56,784.84 L794.6,785.06 L794.63,785.28 L794.67,785.5 L794.7,785.72 L794.74,785.94 L794.78,786.16 L794.81,786.38 L794.85,786.59 L794.89,786.81 L794.92,787.02 L794.96,787.24 L795,787.45 L795.03,787.67 L795.07,787.88 L795.11,788.09 L795.14,788.3 L795.18,788.51 L795.21,788.72 L795.25,788.93 L795.29,789.14 L795.32,789.34 L795.36,789.55 L795.4,789.75 L795.43,789.96 L795.47,790.16 L795.51,790.37 L795.54,790.57 L795.58,790.77 L795.62,790.97 L795.65,791.17 L795.69,791.37 L795.72,791.57 L795.76,791.77 L795.8,791.97 L795.83,792.17 L795.87,792.36 L795.91,792.56 L795.94,792.75 L795.98,792.95 L796.02,793.14 L796.05,793.34 L796.09,793.53 L796.13,793.72 L796.16,793.91 L796.2,794.1 L796.23,794.29 L796.27,794.48 L796.31,794.67 L796.34,794.86 L796.38,795.04 L796.42,795.23 L796.45,795.42 L796.49,795.6 L796.53,795.79 L796.56,795.97 L796.6,796.16 L796.64,796.34 L796.67,796.52 L796.71,796.7 L796.74,796.88 L796.78,797.07 L796.82,797.25 L796.85,797.42 L796.89,797.6 L796.93,797.78 L796.96,797.96 L797,798.14 L797.04,798.31 L797.07,798.49 L797.11,798.67 L797.14,798.84 L797.18,799.01 L797.22,799.19 L797.25,799.36 L797.29,799.53 L797.33,799.71 L797.36,799.88 L797.4,800.05 L797.44,800.22 L797.47,800.39 L797.51,800.56 L797.55,800.73 L797.58,800.9 L797.62,801.06 L797.65,801.23 L797.69,801.4 L797.73,801.56 L797.76,801.73 L797.8,801.89 L797.84,802.06 L797.87,802.22 L797.91,802.39 L797.95,802.55 L797.98,802.71 L798.02,802.87 L798.06,803.04 L798.09,803.2 L798.13,803.36 L798.16,803.52 L798.2,803.68 L798.24,803.84 L798.27,803.99 L798.31,804.15 L798.35,804.31 L798.38,804.47 L798.42,804.62 L798.46,804.78 L798.46,804.78 L799.31,808.31 L800.17,811.61 L801.02,814.69 L801.87,817.58 L802.73,820.29 L803.58,822.84 L804.44,825.24 L805.29,827.51 L806.15,829.66 L807,831.69 L807.86,833.62 L808.71,835.45 L809.57,837.19 L810.42,838.85 L811.28,840.43 L812.13,841.94 L812.98,843.38 L813.84,844.76 L814.69,846.08 L815.55,847.34 L816.4,848.55 L817.26,849.71 L818.11,850.83 L818.97,851.9 L819.82,852.93 L820.68,853.93 L821.53,854.88 L822.38,855.81 L823.24,856.7 L824.09,857.56 L824.95,858.39 L825.8,859.19 L826.66,859.96 L827.51,860.71 L828.37,861.44 L829.22,862.14 L830.08,862.82 L830.93,863.49 L831.79,864.13 L832.64,864.75 L833.49,865.35 L834.35,865.94 L835.2,866.51 L836.06,867.06 L836.91,867.6 L837.77,868.12 L838.62,868.63 L839.48,869.13 L840.33,869.61 L841.19,870.08 L842.04,870.54 L842.9,870.99 L843.75,871.42 L844.6,871.85 L845.46,872.26 L846.31,872.67 L847.17,873.06 L848.02,873.45 L848.88,873.83 L849.73,874.19 L850.59,874.55 L851.44,874.91 L852.3,875.25 L853.15,875.59 L854.01,875.92 L854.86,876.24 L855.71,876.55 L856.57,876.86 L857.42,877.16 L858.28,877.46 L859.13,877.75 L859.99,878.03 L860.84,878.31 L861.7,878.59 L862.55,878.85 L863.41,879.11 L864.26,879.37 L865.11,879.62 L865.97,879.87 L866.82,880.12 L867.68,880.35 L868.53,880.59 L869.39,880.82 L870.24,881.04 L871.1,881.27 L871.95,881.48 L872.81,881.7 L873.66,881.91 L874.52,882.11 L875.37,882.32 L876.22,882.52 L877.08,882.71 L877.93,882.91 L878.79,883.1 L879.64,883.28 L880.5,883.47 L881.35,883.65 L882.21,883.82 L883.06,884 L883.92,884.17 L884.77,884.34 L885.63,884.51 L886.48,884.67 L887.33,884.83 L888.19,884.99 L889.04,885.15 L889.9,885.3 L890.75,885.46 L891.61,885.61 L892.46,885.75 L893.32,885.9 L894.17,886.04 L895.03,886.19 L895.88,886.32 L896.74,886.46 L897.59,886.6 L898.44,886.73 L899.3,886.86 L900.15,886.99 L901.01,887.12 L901.86,887.25 L902.72,887.37 L903.57,887.5 L904.43,887.62 L905.28,887.74 L906.14,887.86 L906.99,887.97 L907.84,888.09 L908.7,888.2 L909.55,888.31 L910.41,888.43 L911.26,888.53 L912.12,888.64 L912.97,888.75 L913.83,888.86 L914.68,888.96 L915.54,889.06 L916.39,889.16 L917.25,889.26 L918.1,889.36 L918.95,889.46 L919.81,889.56 L920.66,889.65 L921.52,889.75 L922.37,889.84 L923.23,889.93 L924.08,890.03 L924.94,890.12 L925.79,890.21 L926.65,890.29 L927.5,890.38 L928.36,890.47 L929.21,890.55 L930.06,890.64 L930.92,890.72 L931.77,890.8 L932.63,890.88 L933.48,890.96 L934.34,891.04 L935.19,891.12 L936.05,891.2 L936.9,891.28 L937.76,891.36 L938.61,891.43 L939.47,891.51 L940.32,891.58 L941.17,891.65 L942.03,891.73 L942.88,891.8 L943.74,891.87 L944.59,891.94 L945.45,892.01 L946.3,892.08 L947.16,892.15 L948.01,892.21 L948.87,892.28 L949.72,892.35 L950.58,892.41 L951.43,892.48 L952.28,892.54 L953.14,892.61 L953.99,892.67 L954.85,892.73 L955.7,892.79 L956.56,892.85 L957.41,892.92 L958.27,892.98 L959.12,893.04 L959.98,893.09 L960.83,893.15 L961.68,893.21 L962.54,893.27 L963.39,893.33 L964.25,893.38 L965.1,893.44 L965.96,893.49 L966.81,893.55 L967.67,893.6 L968.52,893.66" stroke="#ff00ff" stroke-width="3.3" fill="none"/>
<g stroke="#000" stroke-width="3" fill="none" stroke-linecap="butt">
<path d="M775.5,617 H976.7 V905.5 H775.5 Z"/>
<path d="M765,905.5 H775.5 M769.2,891.08 H775.5 M769.2,876.65 H775.5 M769.2,862.23 H775.5 M769.2,847.8 H775.5 M765,833.38 H775.5 M769.2,818.95 H775.5 M769.2,804.52 H775.5 M769.2,790.1 H775.5 M769.2,775.67 H775.5 M765,761.25 H775.5 M769.2,746.83 H775.5 M769.2,732.4 H775.5 M769.2,717.98 H775.5 M769.2,703.55 H775.5 M765,689.12 H775.5 M769.2,674.7 H775.5 M769.2,660.27 H775.5 M769.2,645.85 H775.5 M769.2,631.42 H775.5 M765,617 H775.5 M775.5,905.5 V915.7 M794.63,905.5 V911.8 M813.76,905.5 V915.7 M832.89,905.5 V911.8 M852.02,905.5 V915.7 M871.15,905.5 V911.8 M890.28,905.5 V915.7 M909.41,905.5 V911.8 M928.54,905.5 V915.7 M947.67,905.5 V911.8 M966.8,905.5 V915.7"/>
</g>
<g font-size="20" fill="#000" text-anchor="end">
<text x="755.7" y="911.5">100</text>
<text x="755.7" y="839.38">150</text>
<text x="755.7" y="767.25">200</text>
<text x="755.7" y="695.12">250</text>
<text x="755.7" y="623">300</text>
</g>
<g font-size="20" fill="#000" text-anchor="middle">
<text x="774" y="948.8">0</text>
<text x="812.26" y="948.8">20</text>
<text x="850.52" y="948.8">40</text>
<text x="888.78" y="948.8">60</text>
<text x="927.04" y="948.8">80</text>
<text x="965.3" y="948.8">100</text>
</g>
<rect x="210.3" y="625.1" width="102.3" height="31.1" rx="3.5" ry="3.5" fill="#fff" stroke="#000" stroke-width="2.6"/>
<text x="216.4" y="648" font-size="27.8" fill="#000">t = 80 s</text>
<rect x="519" y="625" width="118.3" height="30.7" rx="3.5" ry="3.5" fill="#fff" stroke="#000" stroke-width="2.6"/>
<text x="526" y="647.9" font-size="27.8" fill="#000">t = 160 s</text>
<rect x="848.8" y="625.9" width="118" height="29.8" rx="3.5" ry="3.5" fill="#fff" stroke="#000" stroke-width="2.6"/>
<text x="855.5" y="648.8" font-size="27.8" fill="#000">t = 320 s</text>
<rect x="828.8" y="666.2" width="139.7" height="60.1" fill="#fff" stroke="#000" stroke-width="1.7"/>
<circle cx="874.5" cy="682.3" r="3.6" fill="#000"/>
<text x="884.8" y="686.7" font-size="23.5" fill="#000">data</text>
<path d="M834.7,708.7 H878.9" stroke="#ff00ff" stroke-width="3.2"/>
<text x="884.2" y="716.7" font-size="24.3" fill="#000">Z(ω,Δt)</text>
<text x="51.9" y="985" font-size="24.1" fill="#000">Lateral beam diameter [µm]</text>
<text x="376.4" y="988" font-size="24.1" fill="#000">Lateral beam diameter [µm]</text>
<text x="706.4" y="987" font-size="24.1" fill="#000">Lateral beam diameter [µm]</text>
<text transform="translate(23.8,946.1) rotate(-90)" font-size="24.1" fill="#000">Relative damaged volume [%]</text>
<text transform="translate(367.8,939.2) rotate(-90)" font-size="24.1" fill="#000">Relative damaged volume [%]</text>
<text transform="translate(702.8,939.2) rotate(-90)" font-size="24.1" fill="#000">Relative damaged volume [%]</text>
</svg></body></html>
